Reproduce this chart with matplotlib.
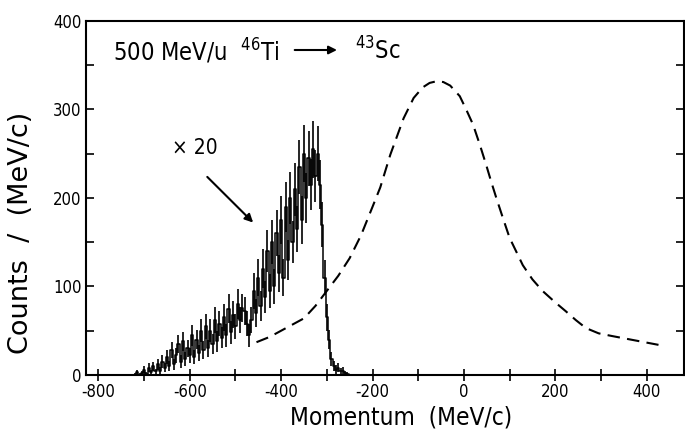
import numpy as np
import matplotlib
matplotlib.use("Agg")
import matplotlib.pyplot as plt

plt.rcParams['font.family'] = ['DejaVu Sans']
plt.rcParams['font.stretch'] = 'condensed'
plt.rcParams['axes.unicode_minus'] = False

# Histogram (x20 scaled) — bin centres in MeV/c
hist_x = np.arange(-720, -245, 5)
hist_y = [0, 3, 0, 2, 6, 1, 8, 3, 10, 4,
          12, 5, 15, 8, 20, 10, 28, 12, 22, 35,
          15, 38, 18, 30, 22, 45, 20, 40, 25, 50,
          28, 55, 30, 50, 35, 62, 38, 58, 42, 65,
          45, 75, 48, 68, 55, 80, 62, 76, 72, 58,
          45, 62, 95, 70, 110, 78, 120, 88, 140, 95,
          150, 100, 160, 115, 175, 110, 190, 130, 200, 150,
          210, 165, 235, 175, 250, 200, 245, 215, 255, 225,
          250, 215, 170, 110, 65, 40, 18, 10, 6, 8,
          4, 5, 2, 1, 0]
hist_err = [2, 3, 2, 3, 4, 2, 5, 3, 5, 3,
            6, 4, 7, 5, 8, 6, 9, 6, 8, 10,
            7, 11, 8, 10, 9, 12, 8, 11, 9, 13,
            10, 14, 10, 13, 11, 15, 12, 14, 12, 15,
            13, 16, 13, 15, 14, 17, 15, 16, 16, 14,
            13, 15, 20, 16, 21, 17, 22, 18, 24, 19,
            25, 20, 26, 21, 27, 21, 28, 23, 29, 24,
            30, 26, 31, 27, 32, 28, 31, 29, 32, 29,
            31, 28, 25, 20, 15, 11, 8, 6, 5, 5,
            4, 4, 3, 2, 1]

# Dashed curve
curve_x = [-454, -425, -400, -375, -350, -325, -300, -275, -250, -225, -200,
           -183, -161, -132, -110, -90, -75, -59, -45, -30, -9, 5, 20, 35,
           49, 60, 71, 85, 100, 115, 129, 150, 172, 200, 223, 245, 267, 295,
           324, 375, 426]
curve_y = [37, 43, 50, 57, 64, 78, 95, 112, 132, 158, 190,
           212, 249, 290, 313, 325, 330, 332, 331, 327, 315, 300, 283, 260,
           237, 218, 200, 178, 155, 139, 124, 108, 95, 82, 72, 62, 53, 47,
           44, 39, 34]

x_ticks = [-800, -600, -400, -200, 0, 200, 400]
x_ticks_all = [-800, -700, -600, -500, -400, -300, -200, -100, 0, 100, 200, 300, 400]
y_ticks = [0, 100, 200, 300, 400]

fig = plt.figure(figsize=(6.85, 4.37), dpi=100)
ax = fig.add_axes([0.125, 0.142, 0.873, 0.81])

ax.step(hist_x, hist_y, where='mid', color='black', lw=1.1)
ax.errorbar(hist_x, hist_y, yerr=hist_err, fmt='none', ecolor='black', elinewidth=1.2)

ax.plot(curve_x, curve_y, color='black', lw=1.5, dashes=(6, 3.5))

ax.set_xlim(-828, 481)
ax.set_ylim(0, 400)

ax.set_xticks(x_ticks_all)
ax.set_xticklabels([str(t) if t in x_ticks else '' for t in x_ticks_all])
ax.set_yticks(y_ticks)
ax.set_yticks([50, 150, 250, 350], minor=True)
ax.tick_params(axis='x', direction='inout', length=8, width=1.2, labelsize=12, pad=2)
ax.tick_params(axis='y', which='both', direction='in', right=True, length=6, width=1.2, labelsize=12, pad=3)
for s in ax.spines.values():
    s.set_linewidth(1.5)

ax.set_xlabel('Momentum  (MeV/c)', fontsize=17.5)
ax.xaxis.set_label_coords(0.527, -0.085)
ax.xaxis.label.set_va('top')
ax.set_ylabel('Counts  /  (MeV/c)', fontsize=19.5, fontstretch='normal')
ax.yaxis.set_label_coords(-0.087, 0.40)

ax.text(-588, 256, '× 20', fontsize=15, ha='center', va='center')
ax.annotate('', xy=(-457, 170), xytext=(-566, 226),
            arrowprops=dict(arrowstyle='-|>', color='black', lw=1.5, mutation_scale=12))

ax.text(0.045, 0.915, r'500 MeV/u  $^{46}$Ti', transform=ax.transAxes, fontsize=17, va='center')
ax.text(0.45, 0.915, r'$^{43}$Sc', transform=ax.transAxes, fontsize=17, va='center')
ax.annotate('', xy=(0.425, 0.918), xytext=(0.345, 0.918), xycoords='axes fraction',
            arrowprops=dict(arrowstyle='-|>', color='black', lw=1.5, mutation_scale=12))

fig.savefig('out.png', dpi=100)
